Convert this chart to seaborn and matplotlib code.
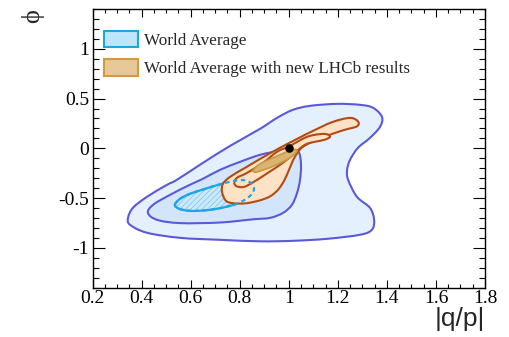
import numpy as np
import matplotlib
matplotlib.use("Agg")
import matplotlib.pyplot as plt
from matplotlib.path import Path
from matplotlib.patches import PathPatch, Patch
import seaborn as sns
import pandas as pd

# ---- contour data: (|q/p|, phi) ----
# World average, outer (3 sigma) contour
wa3_q = [0.345, 0.365, 0.422, 0.504, 0.544, 0.650, 0.761, 0.883, 0.952, 1.017,
         1.087, 1.197, 1.291, 1.344, 1.380, 1.372, 1.331, 1.282, 1.250, 1.238,
         1.242, 1.278, 1.331, 1.348, 1.339, 1.291, 1.156, 1.017, 0.883, 0.720,
         0.557, 0.422, 0.353]
wa3_phi = [-0.698, -0.597, -0.487, -0.366, -0.316, -0.146, 0.025, 0.196, 0.306, 0.387,
           0.427, 0.447, 0.437, 0.407, 0.316, 0.216, 0.105, 0.005, -0.115, -0.216,
           -0.316, -0.487, -0.597, -0.718, -0.818, -0.868, -0.909, -0.929, -0.934, -0.919,
           -0.899, -0.848, -0.768]

# World average, middle (2 sigma) contour
wa2_q = [0.426, 0.447, 0.516, 0.597, 0.650, 0.720, 0.801, 0.883, 0.964, 1.017,
         1.042, 1.050, 1.046, 1.034, 1.013, 0.977, 0.924, 0.854, 0.720, 0.557, 0.463]
wa2_phi = [-0.648, -0.567, -0.467, -0.366, -0.306, -0.216, -0.136, -0.065, -0.025, -0.015,
           -0.045, -0.166, -0.316, -0.447, -0.567, -0.648, -0.698, -0.713, -0.745, -0.751, -0.718]

# World average, inner (1 sigma) contour
wa1_q = [0.536, 0.557, 0.597, 0.659, 0.720, 0.781, 0.822, 0.850, 0.858, 0.838,
         0.793, 0.728, 0.659, 0.597, 0.553]
wa1_phi = [-0.567, -0.507, -0.457, -0.407, -0.361, -0.326, -0.321, -0.356, -0.417, -0.487,
           -0.552, -0.597, -0.623, -0.628, -0.607]

# World average with new LHCb results, 3 sigma
lhcb3_q = [0.728, 0.732, 0.761, 0.822, 0.891, 0.964, 1.034, 1.099, 1.180, 1.250,
           1.282, 1.278, 1.221, 1.127, 1.058, 1.025, 1.001, 0.981, 0.956, 0.924,
           0.883, 0.826, 0.777, 0.744]
lhcb3_phi = [-0.437, -0.356, -0.286, -0.196, -0.095, 0.005, 0.095, 0.176, 0.266, 0.306,
             0.271, 0.221, 0.181, 0.100, 0.015, -0.085, -0.216, -0.326, -0.417, -0.482,
             -0.522, -0.552, -0.552, -0.527]

# World average with new LHCb results, 2 sigma
lhcb2_q = [0.778, 0.789, 0.830, 0.895, 0.952, 1.001, 1.074, 1.127, 1.156, 1.168,
           1.144, 1.074, 1.034, 0.981, 0.915, 0.858, 0.818, 0.789]
lhcb2_phi = [-0.349, -0.296, -0.246, -0.146, -0.035, 0.020, 0.115, 0.143, 0.141, 0.115,
             0.085, 0.045, -0.025, -0.136, -0.246, -0.336, -0.387, -0.382]

# World average with new LHCb results, 1 sigma
lhcb1_q = [0.856, 0.883, 0.964, 1.013, 1.034, 1.005, 0.936, 0.871, 0.854]
lhcb1_phi = [-0.216, -0.156, -0.065, -0.015, -0.025, -0.095, -0.181, -0.236, -0.231]

# Best-fit point
best_q = [1.0]
best_phi = [0.0]

x_ticks = [0.2, 0.4, 0.6, 0.8, 1.0, 1.2, 1.4, 1.6, 1.8]
x_labels = ["0.2", "0.4", "0.6", "0.8", "1", "1.2", "1.4", "1.6", "1.8"]
y_ticks = [-1.0, -0.5, 0.0, 0.5, 1.0]
y_labels = ["-1", "-0.5", "0", "0.5", "1"]
legend_labels = ["World Average", "World Average with new LHCb results"]


def closed_path(xs, ys):
    """Smooth closed curve through the given vertices (Catmull-Rom as Bezier)."""
    p = np.column_stack([xs, ys])
    n = len(p)
    verts = [p[0]]
    codes = [Path.MOVETO]
    for i in range(n):
        p0, p1, p2, p3 = p[(i - 1) % n], p[i], p[(i + 1) % n], p[(i + 2) % n]
        verts += [p1 + (p2 - p0) / 6.0, p2 - (p3 - p1) / 6.0, p2]
        codes += [Path.CURVE4] * 3
    return Path(verts, codes)


sns.set_theme(style="ticks")
plt.rcParams.update({
    "font.family": ["Liberation Serif", "DejaVu Serif"],
    "axes.unicode_minus": False,
    "hatch.linewidth": 0.6,
    "axes.linewidth": 1.0,
    "axes.edgecolor": "black",
})

fig = plt.figure(figsize=(5.09, 3.37), dpi=100)
ax = fig.add_axes([92.5 / 509, 1 - 287.7 / 337, 392.5 / 509, 278.7 / 337])

blue_edge = "#5a5ad8"
orange_edge = "#b24b12"
wa_edge = "#1ea5e3"

ax.add_patch(PathPatch(closed_path(wa3_q, wa3_phi), facecolor="#e4f0fd",
                       edgecolor=blue_edge, lw=1.5, zorder=1))
ax.add_patch(PathPatch(closed_path(wa2_q, wa2_phi), facecolor="#d3e5fa",
                       edgecolor=blue_edge, lw=1.5, zorder=2))
wa1 = closed_path(wa1_q, wa1_phi)
ax.add_patch(PathPatch(wa1, facecolor="#cde8fa", edgecolor="none", zorder=3))
ax.add_patch(PathPatch(wa1, facecolor="none", edgecolor="#86cbef", lw=0,
                       hatch="//////", zorder=3.1))
ax.add_patch(PathPatch(wa1, facecolor="none", edgecolor=wa_edge, lw=1.6, zorder=3.2))

ax.add_patch(PathPatch(closed_path(lhcb3_q, lhcb3_phi), facecolor="#fde2c6",
                       edgecolor=orange_edge, lw=1.5, zorder=4))
ax.add_patch(PathPatch(closed_path(lhcb2_q, lhcb2_phi), facecolor="#fde2c6",
                       edgecolor=orange_edge, lw=1.5, zorder=5))
ax.add_patch(PathPatch(closed_path(lhcb1_q, lhcb1_phi), facecolor="#dab472",
                       edgecolor="#c9973e", lw=1.2, zorder=6))
ax.add_patch(PathPatch(wa1, facecolor="none", edgecolor=wa_edge, lw=1.6,
                       linestyle=(0, (2.0, 1.6)), zorder=7))

sns.scatterplot(data=pd.DataFrame({"q": best_q, "phi": best_phi}), x="q", y="phi",
                s=38, color="black", edgecolor="black", linewidth=0, zorder=8,
                ax=ax, legend=False)

ax.set_xlim(0.2, 1.8)
ax.set_ylim(-1.4, 1.4)
ax.set_xticks(x_ticks, x_labels)
ax.set_yticks(y_ticks, y_labels)
ax.xaxis.set_minor_locator(matplotlib.ticker.MultipleLocator(0.05))
ax.yaxis.set_minor_locator(matplotlib.ticker.MultipleLocator(0.1))
ax.tick_params(axis="both", which="both", direction="in", top=True, right=True,
               labelsize=14, width=0.8, color="black", labelcolor="black")
ax.tick_params(axis="x", which="major", length=6, pad=1.5)
ax.tick_params(axis="x", which="minor", length=3)
ax.tick_params(axis="y", which="major", length=8.5, pad=2.5)
ax.tick_params(axis="y", which="minor", length=4.2)
for s in ax.spines.values():
    s.set_visible(True)
    s.set_color("black")

ax.set_xlabel("|q/p|", fontsize=19, family=["Liberation Sans", "DejaVu Sans"],
              loc="right")
ax.xaxis.set_label_coords(1.0, -0.07)
ax.set_ylabel("ϕ", fontsize=19, loc="top")
ax.yaxis.set_label_coords(-0.123, 0.998)

handles = [Patch(facecolor="#bee6fb", edgecolor="#1aa7e5", lw=1.5),
           Patch(facecolor="#e7c999", edgecolor="#d39b3b", lw=1.5)]
ax.legend(handles, legend_labels, loc="upper left", bbox_to_anchor=(0.029, 0.921),
          frameon=False, fontsize=12.3, handlelength=2.0, handleheight=1.1,
          handletextpad=0.35, labelspacing=0.6, borderpad=0, borderaxespad=0)

fig.savefig("out.png", dpi=100, facecolor="white")
